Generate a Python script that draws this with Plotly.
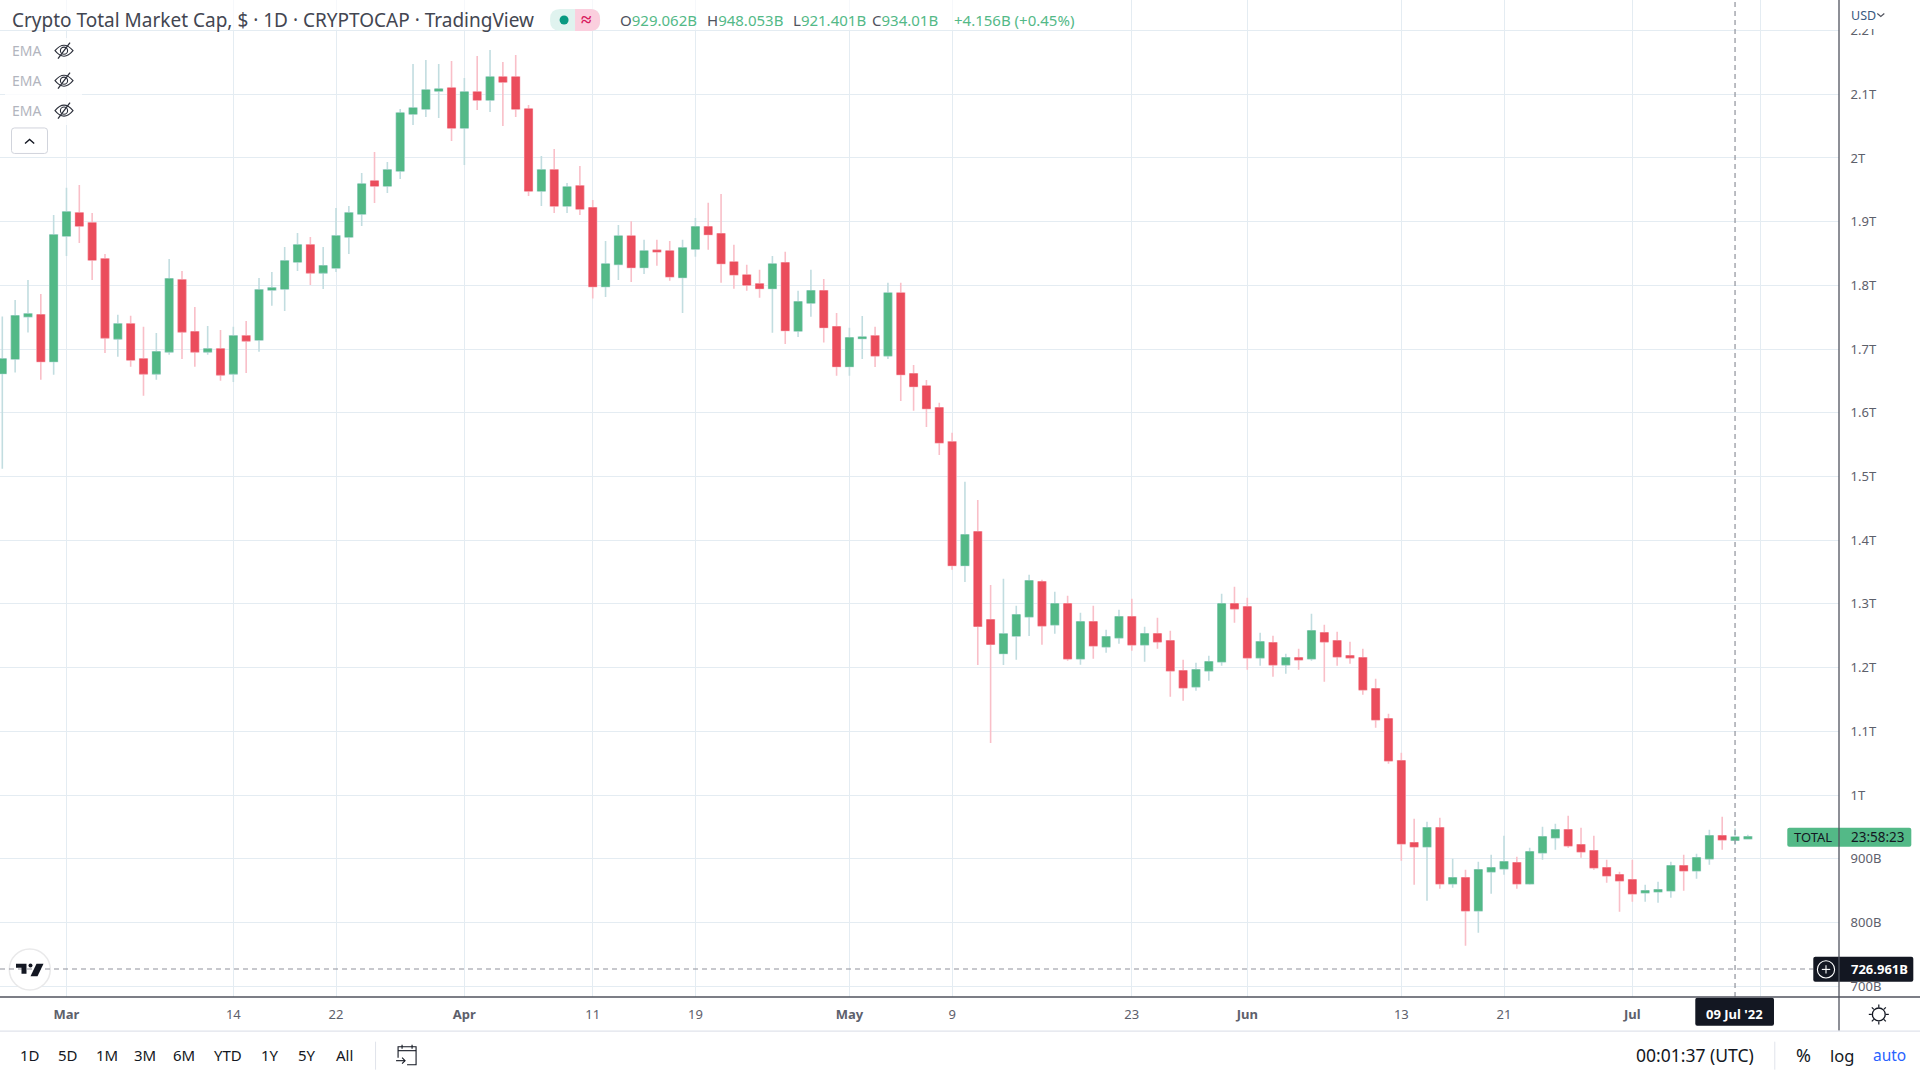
import pandas as pd
import plotly.graph_objects as go

# Velas diarias TOTAL, en miles de millones
start_date = "2022-02-24"
open_b = [
    1661.6, 1684.6, 1751.0, 1753.7, 1680.4, 1877.6, 1913.7, 1898.0, 1841.5, 1716.0,
    1739.5, 1684.6, 1661.1, 1695.6, 1808.6, 1727.0, 1695.6, 1700.3, 1661.1, 1720.7,
    1714.4, 1792.9, 1794.4, 1836.8, 1863.5, 1819.6, 1827.4, 1876.0, 1912.1, 1963.9,
    1956.1, 1979.6, 2069.0, 2076.9, 2105.1, 2109.8, 2047.1, 2103.6, 2091.0, 2127.1,
    2127.1, 2076.9, 1948.2, 1981.2, 1924.7, 1956.1, 1921.8, 1798.1, 1833.0, 1877.4,
    1828.2, 1855.2, 1854.0, 1812.5, 1857.0, 1891.8, 1881.0, 1836.6, 1816.2, 1802.3,
    1795.1, 1835.4, 1728.5, 1772.3, 1791.5, 1735.1, 1672.6, 1716.5, 1720.7, 1689.4,
    1787.9, 1661.2, 1642.0, 1607.8, 1554.3, 1360.4, 1413.2, 1275.1, 1222.3, 1249.8,
    1279.8, 1334.7, 1267.2, 1300.2, 1213.9, 1271.9, 1232.7, 1246.8, 1279.8, 1235.8,
    1253.1, 1242.1, 1195.0, 1169.9, 1195.0, 1209.2, 1300.2, 1295.4, 1215.4, 1239.0,
    1204.4, 1215.4, 1213.9, 1254.7, 1242.1, 1218.6, 1215.4, 1166.8, 1119.7, 1053.8,
    925.2, 918.9, 948.7, 860.8, 870.2, 818.4, 879.6, 884.3, 893.8, 860.8,
    909.4, 933.0, 945.5, 922.0, 912.6, 885.9, 874.9, 867.0, 846.7, 848.3,
    849.8, 889.0, 881.2, 900.0, 936.1, 929.062, 931.4,
]
high_b = [
    1751.0, 1777.2, 1808.6, 1786.6, 1910.6, 1953.4, 1957.6, 1913.7, 1849.4, 1753.7,
    1752.1, 1734.9, 1725.4, 1841.5, 1822.7, 1766.2, 1736.4, 1730.1, 1734.9, 1744.2,
    1811.7, 1821.1, 1860.4, 1882.3, 1876.0, 1860.4, 1921.6, 1924.7, 1976.5, 2009.4,
    1993.7, 2076.9, 2147.5, 2153.8, 2147.5, 2152.2, 2125.5, 2160.0, 2169.4, 2150.6,
    2161.6, 2083.2, 2003.1, 2014.1, 1960.8, 1987.4, 1933.8, 1869.6, 1894.8, 1900.8,
    1871.4, 1871.4, 1869.6, 1871.4, 1905.6, 1929.6, 1943.5, 1863.6, 1832.4, 1824.6,
    1846.2, 1852.8, 1791.5, 1824.6, 1810.1, 1756.7, 1733.3, 1751.9, 1735.1, 1804.1,
    1804.1, 1675.0, 1651.6, 1615.6, 1568.7, 1491.9, 1463.0, 1329.7, 1339.3, 1297.0,
    1345.7, 1337.8, 1319.0, 1312.7, 1286.0, 1297.0, 1259.4, 1290.8, 1308.0, 1264.1,
    1278.2, 1257.8, 1212.3, 1207.6, 1218.6, 1315.9, 1326.8, 1309.6, 1254.7, 1250.0,
    1221.7, 1229.6, 1284.5, 1267.2, 1256.2, 1240.5, 1229.6, 1182.5, 1127.6, 1066.4,
    962.8, 958.1, 964.4, 900.0, 882.8, 895.3, 906.3, 936.1, 903.2, 917.3,
    950.2, 955.0, 967.5, 948.7, 936.1, 898.5, 879.6, 898.5, 859.2, 863.9,
    895.3, 906.3, 907.9, 945.5, 965.9, 948.053, 937.7,
]
low_b = [
    1512.0, 1663.2, 1725.9, 1651.7, 1659.5, 1846.2, 1866.6, 1808.6, 1694.0, 1687.8,
    1672.1, 1626.6, 1651.7, 1690.9, 1684.6, 1672.1, 1690.9, 1650.1, 1648.5, 1662.6,
    1695.6, 1767.8, 1759.9, 1822.7, 1800.7, 1794.4, 1821.1, 1849.4, 1893.3, 1929.4,
    1945.1, 1967.1, 2051.8, 2064.3, 2062.8, 2026.7, 1989.0, 2075.3, 2072.2, 2050.2,
    2064.3, 1940.4, 1924.7, 1913.7, 1913.7, 1910.6, 1779.5, 1781.9, 1808.3, 1805.3,
    1818.0, 1830.6, 1807.1, 1756.7, 1845.0, 1855.8, 1804.1, 1794.5, 1791.5, 1780.7,
    1725.5, 1708.1, 1718.9, 1750.7, 1710.5, 1658.2, 1658.2, 1684.6, 1672.0, 1684.6,
    1618.6, 1603.0, 1577.8, 1533.9, 1353.8, 1334.5, 1204.2, 1081.7, 1204.2, 1212.3,
    1249.8, 1235.8, 1253.1, 1210.7, 1204.4, 1213.9, 1223.3, 1237.4, 1226.4, 1209.2,
    1229.6, 1154.2, 1148.0, 1163.7, 1179.4, 1202.9, 1270.4, 1196.6, 1202.9, 1185.6,
    1190.3, 1196.6, 1210.7, 1177.8, 1202.9, 1206.0, 1157.4, 1105.6, 1049.1, 896.9,
    859.3, 834.2, 853.0, 854.5, 763.5, 783.9, 845.1, 874.9, 853.0, 859.2,
    898.5, 914.2, 917.3, 901.6, 882.8, 862.4, 816.9, 832.6, 832.6, 831.0,
    838.8, 849.8, 868.6, 890.6, 914.2, 921.401, 931.4,
]
close_b = [
    1684.6, 1752.1, 1755.2, 1680.4, 1879.2, 1915.3, 1893.3, 1839.9, 1717.6, 1739.5,
    1683.0, 1661.1, 1695.6, 1810.2, 1727.0, 1695.6, 1700.3, 1659.5, 1720.7, 1712.9,
    1792.9, 1796.0, 1838.4, 1863.5, 1819.6, 1830.6, 1877.6, 1913.7, 1959.2, 1956.1,
    1981.2, 2070.6, 2078.4, 2106.7, 2108.2, 2047.1, 2103.6, 2091.0, 2127.1, 2119.2,
    2076.9, 1948.2, 1981.2, 1924.7, 1954.5, 1920.0, 1798.1, 1833.6, 1877.4, 1828.2,
    1854.0, 1852.8, 1813.7, 1858.8, 1891.8, 1879.8, 1834.2, 1816.8, 1800.5, 1795.1,
    1833.6, 1729.1, 1774.1, 1791.5, 1733.9, 1672.6, 1717.7, 1718.9, 1689.4, 1787.9,
    1660.0, 1641.4, 1606.6, 1553.1, 1360.4, 1408.4, 1264.9, 1236.7, 1252.9, 1282.9,
    1336.3, 1265.6, 1300.2, 1213.9, 1271.9, 1234.3, 1248.4, 1279.8, 1235.8, 1253.1,
    1240.5, 1195.0, 1168.4, 1196.6, 1209.2, 1300.2, 1292.3, 1215.4, 1240.5, 1204.4,
    1215.4, 1212.3, 1257.8, 1240.5, 1217.0, 1215.4, 1165.2, 1118.2, 1053.8, 923.6,
    918.9, 948.7, 860.8, 870.2, 818.4, 882.8, 885.9, 895.3, 860.8, 911.0,
    934.5, 945.5, 920.4, 911.0, 885.9, 873.4, 865.5, 845.1, 849.8, 851.4,
    889.0, 881.2, 901.6, 936.1, 929.8, 934.01, 934.5,
]

y_tick_vals = [700, 800, 900, 1000, 1100, 1200, 1300, 1400, 1500, 1600, 1700, 1800, 1900, 2000, 2100, 2200]
y_tick_text = ["700B", "800B", "900B", "1T", "1.1T", "1.2T", "1.3T", "1.4T", "1.5T", "1.6T", "1.7T", "1.8T", "1.9T", "2T", "2.1T", "2.2T"]
x_tick_vals = ["2022-03-01", "2022-03-14", "2022-03-22", "2022-04-01", "2022-04-11", "2022-04-19", "2022-05-01",
               "2022-05-09", "2022-05-23", "2022-06-01", "2022-06-13", "2022-06-21", "2022-07-01", "2022-07-11"]
x_tick_text = ["<b>Mar</b>", "14", "22", "<b>Apr</b>", "11", "19", "<b>May</b>", "9", "23", "<b>Jun</b>", "13", "21", "<b>Jul</b>", ""]
range_buttons = ["1D", "5D", "1M", "3M", "6M", "YTD", "1Y", "5Y", "All"]
range_button_x = [30, 68, 106.5, 145, 184, 228, 270, 307, 344]

cross_price = 726.961
cross_date = "2022-07-09"

FONT = "Noto Sans"
UP = "#53B987"
DOWN = "#EB4D5C"
GRID = "#E4ECF2"
AXIS = "#50535E"
INK = "#131722"
PLOT_W = 1838.7
PLOT_H = 997.3

dates = pd.date_range(start_date, periods=len(close_b))
body_high = [max(o, c) for o, c in zip(open_b, close_b)]
body_low = [min(o, c) for o, c in zip(open_b, close_b)]

fig = go.Figure()

# Mechas claras primero, cuerpos solidos encima
fig.add_trace(go.Candlestick(
    x=dates, open=open_b, high=high_b, low=low_b, close=close_b,
    increasing=dict(line=dict(color="#C2DDE0", width=1.6), fillcolor="#C2DDE0"),
    decreasing=dict(line=dict(color="#F9BFC8", width=1.6), fillcolor="#F9BFC8"),
    whiskerwidth=0, showlegend=False,
))
fig.add_trace(go.Candlestick(
    x=dates, open=open_b, high=body_high, low=body_low, close=close_b,
    increasing=dict(line=dict(color=UP, width=0.6), fillcolor=UP),
    decreasing=dict(line=dict(color=DOWN, width=0.6), fillcolor=DOWN),
    whiskerwidth=0, showlegend=False,
))


# Helpers en pixeles de la pagina -> coordenadas paper
def pt(x, y):
    return f"{x / PLOT_W:.5f},{1 - y / PLOT_H:.5f}"


def path_shape(path, line=None, width=1, fill=None, opacity=1):
    fig.add_shape(type="path", xref="paper", yref="paper", path=path,
                  line=dict(color=line or "rgba(0,0,0,0)", width=width if line else 0),
                  fillcolor=fill or "rgba(0,0,0,0)", opacity=opacity)


def box(x0, y0, x1, y1, fill=None, line=None, width=1, opacity=1, layer="above"):
    fig.add_shape(type="rect", xref="paper", yref="paper",
                  x0=x0 / PLOT_W, x1=x1 / PLOT_W, y0=1 - y0 / PLOT_H, y1=1 - y1 / PLOT_H,
                  fillcolor=fill or "rgba(0,0,0,0)", opacity=opacity, layer=layer,
                  line=dict(color=line or "rgba(0,0,0,0)", width=width if line else 0))


def seg(x0, y0, x1, y1, color, width=1, dash="solid"):
    fig.add_shape(type="line", xref="paper", yref="paper",
                  x0=x0 / PLOT_W, x1=x1 / PLOT_W, y0=1 - y0 / PLOT_H, y1=1 - y1 / PLOT_H,
                  line=dict(color=color, width=width, dash=dash))


def rounded(x0, y0, x1, y1, r):
    return (f"M {pt(x0 + r, y0)} L {pt(x1 - r, y0)} Q {pt(x1, y0)} {pt(x1, y0 + r)} "
            f"L {pt(x1, y1 - r)} Q {pt(x1, y1)} {pt(x1 - r, y1)} "
            f"L {pt(x0 + r, y1)} Q {pt(x0, y1)} {pt(x0, y1 - r)} "
            f"L {pt(x0, y0 + r)} Q {pt(x0, y0)} {pt(x0 + r, y0)} Z")


def circle(cx, cy, r, fill=None, line=None, width=1):
    fig.add_shape(type="circle", xref="paper", yref="paper",
                  x0=(cx - r) / PLOT_W, x1=(cx + r) / PLOT_W, y0=1 - (cy - r) / PLOT_H, y1=1 - (cy + r) / PLOT_H,
                  fillcolor=fill or "rgba(0,0,0,0)", line=dict(color=line or "rgba(0,0,0,0)", width=width if line else 0))


def label(x, y, text, size=13, color=INK, anchor="left"):
    fig.add_annotation(xref="paper", yref="paper", x=x / PLOT_W, y=1 - y / PLOT_H, text=text,
                       showarrow=False, xanchor=anchor, yanchor="middle", borderpad=0,
                       font=dict(family=FONT, size=size, color=color))


# Paneles de la leyenda
box(0, 0, 1090, 30, fill="#FFFFFF", opacity=0.65)
box(5, 38, 82, 125, fill="#FFFFFF", opacity=0.8)

# Cabecera
label(10.5, 20.5, "Crypto Total Market Cap, $ · 1D · CRYPTOCAP · TradingView", size=19, color="#434651")
path_shape(rounded(550, 9, 600, 31, 10), fill="#E0F3EF")
path_shape(f"M {pt(575, 9)} L {pt(590, 9)} Q {pt(600, 9)} {pt(600, 20)} Q {pt(600, 31)} {pt(590, 31)} L {pt(575, 31)} Z", fill="#FBCFDE")
circle(564, 20, 4.5, fill="#089981")
label(586, 19, "<b>≈</b>", size=19, color="#D81B60", anchor="center")

ohlc_x = [619, 706, 792, 871]
ohlc_names = ["O", "H", "L", "C"]
ohlc_vals = ["929.062B", "948.053B", "921.401B", "934.01B"]
for x, n, v in zip(ohlc_x, ohlc_names, ohlc_vals):
    label(x, 20.5, f'<span style="color:#50535E">{n}</span>{v}', size=15, color=UP)
label(953, 20.5, "+4.156B (+0.45%)", size=15, color=UP)

# Indicadores EMA ocultos
for y in [50.7, 80.7, 110.7]:
    label(11, y, "EMA", size=14, color="#B2B5BE")
    path_shape(f"M {pt(55, y)} Q {pt(64, y - 11)} {pt(73, y)} Q {pt(64, y + 11)} {pt(55, y)} Z", line="#2A2E39", width=1.1)
    circle(64, y, 3.6, line="#2A2E39", width=1.1)
    seg(58, y + 8, 70, y - 8, "#2A2E39", 1.2)
path_shape(rounded(11.5, 128, 47.5, 153.5, 3), line="#D1D4DC", width=1)
path_shape(f"M {pt(25, 143.5)} L {pt(29.6, 139.5)} L {pt(34.2, 143.5)}", line=INK, width=1.4)

# Logo
circle(29.8, 969.8, 20.5, fill="#FFFFFF", line="#E9E9EA", width=1.5)

# Cruceta
fig.add_shape(type="line", xref="paper", yref="y", x0=0, x1=1813 / PLOT_W, y0=cross_price, y1=cross_price,
              line=dict(color="#8F929B", width=1.2, dash="5px,4px"))
fig.add_shape(type="line", xref="x", yref="paper", x0=cross_date, x1=cross_date, y0=0, y1=1,
              line=dict(color="#8F929B", width=1.2, dash="5px,4px"))

path_shape(f"M {pt(16, 964)} H {(26.5) / PLOT_W:.5f} V {1 - 974 / PLOT_H:.5f} H {(21.5) / PLOT_W:.5f} V {1 - 968 / PLOT_H:.5f} H {16 / PLOT_W:.5f} Z", fill="#131722")
circle(30.5, 965.8, 2, fill="#131722")
path_shape(f"M {pt(36.5, 964)} L {pt(43.5, 964)} L {pt(37.5, 976.5)} L {pt(30.5, 976.5)} Z", fill="#131722")

# Etiquetas del eje de precio
path_shape(rounded(1787, 828, 1911, 847, 2), fill=UP)
label(1792.5, 837.5, "TOTAL", size=13, color=INK)
label(1850, 837.5, "23:58:23", size=13.5, color=INK)

box(1840, 0, 1920, 29, fill="#FFFFFF")
label(1850, 15.5, "USD", size=12.5, color="#3A5A80")
path_shape(f"M {pt(1877, 13.5)} L {pt(1880.5, 16.5)} L {pt(1884, 13.5)}", line="#50535E", width=1.2)

path_shape(rounded(1813, 957, 1913, 982, 2), fill=INK)
circle(1825.7, 969.7, 8.6, line="#FFFFFF", width=1.1)
seg(1821.5, 969.7, 1829.9, 969.7, "#FFFFFF", 1.1)
seg(1825.7, 965.5, 1825.7, 973.9, "#FFFFFF", 1.1)
label(1850, 969.7, "<b>726.961B</b>", size=13, color="#FFFFFF")

path_shape(rounded(1695, 998, 1773.7, 1026, 2), fill=INK)
label(1734.5, 1014, "<b>09 Jul '22</b>", size=13, color="#FFFFFF", anchor="center")

# Engranaje
circle(1878.5, 1014.7, 6.4, line=INK, width=1.3)
for a, b, c, d in [(0, -7, 0, -10), (0, 7, 0, 10), (-7, 0, -10, 0), (7, 0, 10, 0),
                   (-5, -5, -7, -7), (5, -5, 7, -7), (-5, 5, -7, 7), (5, 5, 7, 7)]:
    seg(1878.5 + a, 1014.7 + b, 1878.5 + c, 1014.7 + d, INK, 1.2)

# Lineas de separacion y barra inferior
seg(0, 997.3, 1920, 997.3, AXIS, 1.3)
seg(1838.7, 0, 1838.7, 1031, AXIS, 1.3)
seg(0, 1031.5, 1920, 1031.5, "#E0E3EB", 1.2)
seg(375.5, 1042, 375.5, 1070, "#E0E3EB", 1)
seg(1774.5, 1042, 1774.5, 1070, "#E0E3EB", 1)

for x, t in zip(range_button_x, range_buttons):
    label(x, 1055.5, t, size=15, color=INK, anchor="center")

# Icono de calendario
path_shape(f"M {pt(398, 1058)} V {1 - 1047 / PLOT_H:.5f} H {416 / PLOT_W:.5f} V {1 - 1065 / PLOT_H:.5f} H {407 / PLOT_W:.5f}", line=INK, width=1.1)
seg(398, 1051, 416, 1051, INK, 1.1)
seg(402, 1045, 402, 1049, INK, 1.1)
seg(412, 1045, 412, 1049, INK, 1.1)
seg(396, 1061, 405, 1061, INK, 1.1)
path_shape(f"M {pt(402, 1058)} L {pt(405, 1061)} L {pt(402, 1064)}", line=INK, width=1.1)

label(1694.5, 1055.5, "00:01:37 (UTC)", size=17.5, color=INK, anchor="center")
label(1803.7, 1055.5, "%", size=18, color=INK, anchor="center")
label(1842, 1055.5, "log", size=16.5, color=INK, anchor="center")
label(1889, 1055.5, "auto", size=15.5, color="#2962FF", anchor="center")

fig.update_layout(
    width=1920, height=1080,
    margin=dict(l=0, r=1920 - PLOT_W, t=0, b=1080 - PLOT_H, pad=0),
    paper_bgcolor="#FFFFFF", plot_bgcolor="#FFFFFF",
    showlegend=False, boxmode="overlay", boxgap=0.15,
    font=dict(family=FONT, color=AXIS),
    xaxis=dict(
        type="date", range=["2022-02-23 19:41", "2022-07-17 02:24"],
        rangeslider=dict(visible=False),
        tickmode="array", tickvals=x_tick_vals, ticktext=x_tick_text,
        tickfont=dict(family=FONT, size=13, color="#5D606B"),
        ticks="outside", ticklen=5, tickcolor="rgba(0,0,0,0)",
        showgrid=True, gridcolor=GRID, gridwidth=1.2, zeroline=False, showline=False,
    ),
    yaxis=dict(
        side="right", range=[683.0, 2247.9],
        tickmode="array", tickvals=y_tick_vals, ticktext=y_tick_text,
        tickfont=dict(family=FONT, size=13, color="#5D606B"),
        ticks="outside", ticklen=8, tickcolor="rgba(0,0,0,0)",
        showgrid=True, gridcolor=GRID, gridwidth=1.2, zeroline=False, showline=False,
    ),
)

fig.write_html("out.html", config={"displayModeBar": False},
               post_script="document.body.style.margin='0'")
